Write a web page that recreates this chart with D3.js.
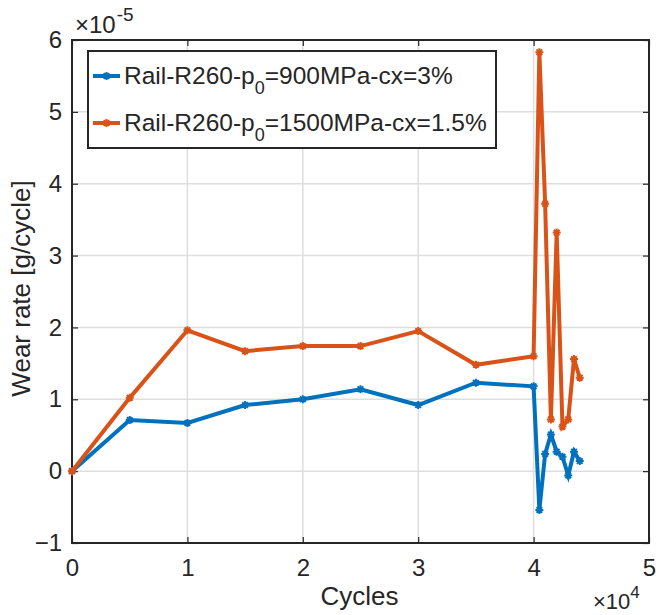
<!DOCTYPE html>
<html>
<head>
<meta charset="utf-8">
<script src="https://cdn.jsdelivr.net/npm/d3@7"></script>
<style>
  body { margin: 0; background: #fff; }
  text { font-family: "Liberation Sans", Arial, sans-serif; fill: #262626; }
</style>
</head>
<body>
<div id="dataviz"></div>
<script>
// cycles (x 10^4)
var cycles900 = [0, 0.5, 1, 1.5, 2, 2.5, 3, 3.5, 4, 4.05, 4.1, 4.15, 4.2, 4.25, 4.3, 4.35, 4.4];
var wear900 = [0, 0.71, 0.67, 0.92, 1.0, 1.14, 0.92, 1.23, 1.18, -0.54, 0.24, 0.51, 0.27, 0.2, -0.06, 0.27, 0.14];
var cycles1500 = [0, 0.5, 1, 1.5, 2, 2.5, 3, 3.5, 4, 4.05, 4.1, 4.15, 4.2, 4.25, 4.3, 4.35, 4.4];
var wear1500 = [0, 1.02, 1.96, 1.67, 1.74, 1.74, 1.95, 1.48, 1.6, 5.83, 3.72, 0.72, 3.32, 0.62, 0.72, 1.56, 1.3];
var xTicks = [0, 1, 2, 3, 4, 5];
var yTicks = [-1, 0, 1, 2, 3, 4, 5, 6];
var seriesNames = ["900MPa-cx=3%", "1500MPa-cx=1.5%"];
var seriesColors = ["#0072BD", "#D95319"];

var width = 656, height = 615;
var margin = {top: 40, right: 7, bottom: 72, left: 72};
var w = width - margin.left - margin.right;
var h = height - margin.top - margin.bottom;

var svg = d3.select("#dataviz")
  .append("svg")
    .attr("width", width)
    .attr("height", height)
  .append("g")
    .attr("transform", "translate(" + margin.left + "," + margin.top + ")");

var x = d3.scaleLinear().domain([0, 5]).range([0, w]);
var y = d3.scaleLinear().domain([-1, 6]).range([h, 0]);

// grid
svg.append("g")
  .selectAll("line.gx")
  .data(xTicks)
  .enter().append("line")
    .attr("x1", d => x(d)).attr("x2", d => x(d))
    .attr("y1", 0).attr("y2", h)
    .attr("stroke", "#dedede").attr("stroke-width", 1.5);
svg.append("g")
  .selectAll("line.gy")
  .data(yTicks)
  .enter().append("line")
    .attr("x1", 0).attr("x2", w)
    .attr("y1", d => y(d)).attr("y2", d => y(d))
    .attr("stroke", "#dedede").attr("stroke-width", 1.5);

// axes (ticks pointing inward, box style)
function styleAxis(g) {
  g.select(".domain").remove();
  g.selectAll(".tick line").attr("stroke", "#262626").attr("stroke-width", 1.2);
  g.selectAll(".tick text")
    .style("font-family", '"Liberation Sans", Arial, sans-serif')
    .style("font-size", "24px")
    .attr("fill", "#262626");
}
svg.append("g")
  .attr("transform", "translate(0," + h + ")")
  .call(d3.axisBottom(x).tickValues(xTicks).tickSize(-6).tickPadding(16).tickFormat(d3.format("d")))
  .call(styleAxis);
svg.append("g")
  .call(d3.axisTop(x).tickValues(xTicks).tickSize(-6).tickFormat(""))
  .call(styleAxis);
svg.append("g")
  .call(d3.axisLeft(y).tickValues(yTicks).tickSize(-6).tickPadding(10).tickFormat(d3.format("d")))
  .call(styleAxis);
svg.append("g")
  .attr("transform", "translate(" + w + ",0)")
  .call(d3.axisRight(y).tickValues(yTicks).tickSize(-6).tickFormat(""))
  .call(styleAxis);

svg.append("rect")
  .attr("width", w).attr("height", h)
  .attr("fill", "none").attr("stroke", "#262626").attr("stroke-width", 2);

// asterisk marker
function star(s) {
  var a = s * 0.707;
  return "M" + (-s) + ",0L" + s + ",0M0," + (-s) + "L0," + s +
    "M" + (-a) + "," + (-a) + "L" + a + "," + a + "M" + (-a) + "," + a + "L" + a + "," + (-a);
}

var line = d3.line().x(d => x(d[0])).y(d => y(d[1]));
var series = [
  d3.zip(cycles900, wear900),
  d3.zip(cycles1500, wear1500)
];

series.forEach(function(data, i) {
  svg.append("path")
    .datum(data)
    .attr("d", line)
    .attr("fill", "none")
    .attr("stroke", seriesColors[i])
    .attr("stroke-width", 4)
    .attr("stroke-linejoin", "miter");
  svg.selectAll(".m" + i)
    .data(data)
    .enter().append("path")
      .attr("transform", d => "translate(" + x(d[0]) + "," + y(d[1]) + ")")
      .attr("d", star(4))
      .attr("stroke", seriesColors[i])
      .attr("stroke-width", 2);
});

// legend
var lg = svg.append("g").attr("transform", "translate(16,11)");
lg.append("rect")
  .attr("width", 408).attr("height", 97)
  .attr("fill", "#fff").attr("stroke", "#262626").attr("stroke-width", 2);
seriesNames.forEach(function(name, i) {
  var ly = 25 + i * 47;
  lg.append("line")
    .attr("x1", 5).attr("x2", 32).attr("y1", ly).attr("y2", ly)
    .attr("stroke", seriesColors[i]).attr("stroke-width", 4);
  lg.append("path")
    .attr("transform", "translate(18.5," + ly + ")")
    .attr("d", star(4))
    .attr("stroke", seriesColors[i]).attr("stroke-width", 2);
  var t = lg.append("text")
    .attr("x", 36).attr("y", ly + 8)
    .style("font-size", "24.5px");
  t.append("tspan").text("Rail-R260-p");
  t.append("tspan").attr("dy", 10).style("font-size", "18px").text("0");
  t.append("tspan").attr("dy", -10).text("=" + name);
});

// axis labels
svg.append("text")
  .attr("x", w / 2 - 1)
  .attr("y", h + 62)
  .style("text-anchor", "middle")
  .style("font-size", "26px")
  .text("Cycles");
svg.append("text")
  .attr("transform", "translate(" + (-42) + "," + (h / 2 - 3) + ") rotate(-90)")
  .style("text-anchor", "middle")
  .style("font-size", "26px")
  .text("Wear rate [g/cycle]");

// exponent labels
var ey = svg.append("text").attr("x", 3).attr("y", -7).style("font-size", "24px");
ey.append("tspan").text("\u00d710");
ey.append("tspan").attr("dy", -12).attr("dx", 1).style("font-size", "19px").text("-5");
var ex = svg.append("text").attr("x", w - 56).attr("y", h + 66).style("font-size", "22px");
ex.append("tspan").text("\u00d710");
ex.append("tspan").attr("dy", -11).style("font-size", "17px").text("4");
</script>
</body>
</html>
